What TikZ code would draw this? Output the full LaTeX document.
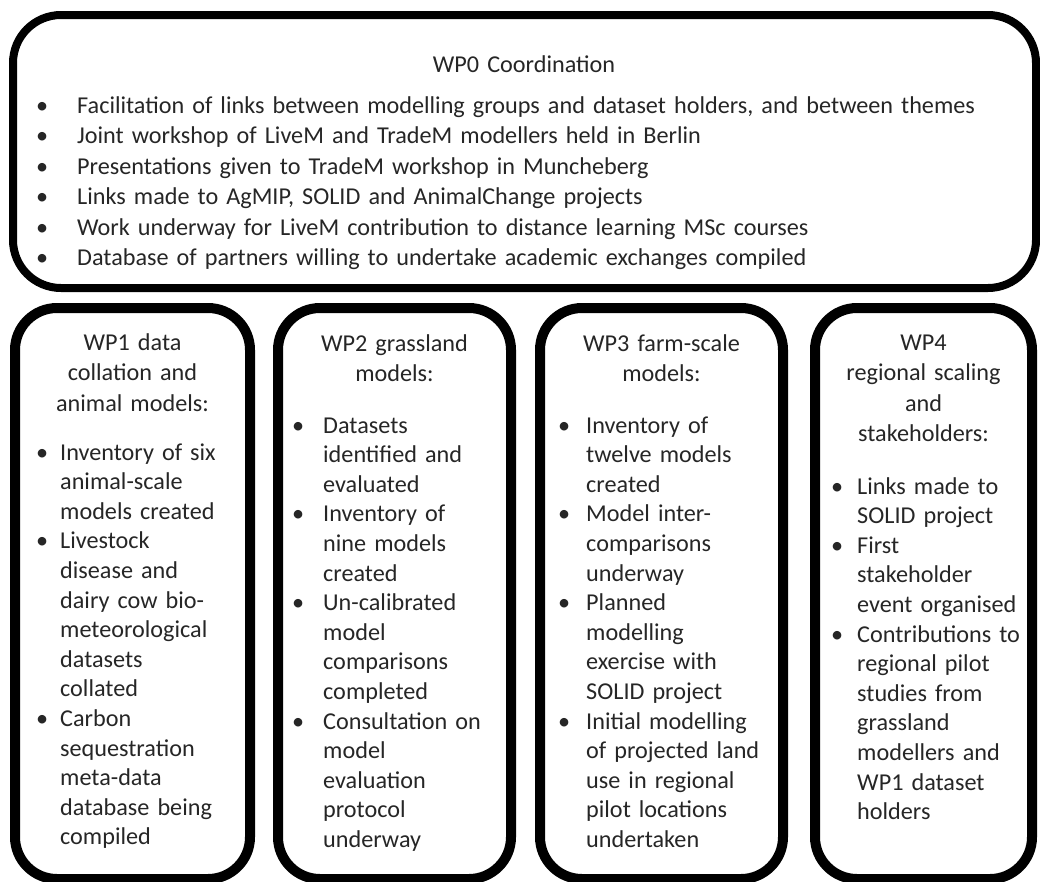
\documentclass[tikz,border=0pt]{standalone}
\usepackage{fontspec}
\setmainfont{Carlito}
\definecolor{txt}{RGB}{38,38,38}
\newcommand{\fitm}[1]{\llap{\makebox[#1][c]{•}}}
\newcommand{\bitm}[1]{\par\noindent\llap{\makebox[#1][c]{•}}}
\tikzset{
  topbox/.style={draw=black, line width=8pt, rounded corners=48pt, inner sep=0pt},
  wpbox/.style={draw=black, line width=10pt, rounded corners=42pt, inner sep=0pt},
  wptitle/.style={anchor=base, text width=230pt, align=center, inner sep=0pt,
    font=\fontsize{24.2}{30.5}\selectfont},
  blist/.style={anchor=base west, text width=250pt, align=left, inner sep=0pt,
    font=\fontsize{24.2}{29.6}\selectfont},
  toplist/.style={anchor=base west, text width=960pt, align=left, inner sep=0pt,
    font=\fontsize{24.2}{30.5}\selectfont},
}
\begin{document}
\begin{tikzpicture}[x=1pt,y=-1pt]
\useasboundingbox (0,0) rectangle (1040,881);
\fill[white] (0,0) rectangle (1040,881);
% boxes
\node[topbox, minimum width=1023pt, minimum height=273pt] (wp0) at (524.5,151.5) {};
\node[wpbox, minimum width=235pt, minimum height=571pt] (wp1) at (132.5,593.5) {};
\node[wpbox, minimum width=233pt, minimum height=571pt] (wp2) at (394.5,593.5) {};
\node[wpbox, minimum width=243pt, minimum height=571pt] (wp3) at (661.5,593.5) {};
\node[wpbox, minimum width=217pt, minimum height=571pt] (wp4) at (923.5,593.5) {};
\begin{scope}[color=txt]
% top box
\node[wptitle, text width=600pt] (t0) at (524,72) {WP0 Coordination};
\node[toplist] (l0) at (77,113) {%
\fitm{70pt}Facilitation of links between modelling groups and dataset holders, and between themes
\bitm{70pt}Joint workshop of LiveM and TradeM modellers held in Berlin
\bitm{70pt}Presentations given to TradeM workshop in Muncheberg
\bitm{70pt}Links made to AgMIP, SOLID and AnimalChange projects
\bitm{70pt}Work underway for LiveM contribution to distance learning MSc courses
\bitm{70pt}Database of partners willing to undertake academic exchanges compiled};
% WP1
\node[wptitle] (t1) at (132.5,350) {WP1 data\\collation and\\animal models:};
\node[blist] (l1) at (60,460) {%
\fitm{36pt}Inventory of six\\animal-scale\\models created
\bitm{36pt}Livestock\\disease and\\dairy cow bio-\\meteorological\\datasets\\collated
\bitm{36pt}Carbon\\sequestration\\meta-data\\database being\\compiled};
% WP2
\node[wptitle] (t2) at (394.5,351) {WP2 grassland\\models:};
\node[blist] (l2) at (323,433) {%
\fitm{50pt}Datasets\\identified and\\evaluated
\bitm{50pt}Inventory of\\nine models\\created
\bitm{50pt}Un-calibrated\\model\\comparisons\\completed
\bitm{50pt}Consultation on\\model\\evaluation\\protocol\\underway};
% WP3
\node[wptitle] (t3) at (661.5,351) {WP3 farm-scale\\models:};
\node[blist] (l3) at (586,433) {%
\fitm{44pt}Inventory of\\twelve models\\created
\bitm{44pt}Model inter-\\comparisons\\underway
\bitm{44pt}Planned\\modelling\\exercise with\\SOLID project
\bitm{44pt}Initial modelling\\of projected land\\use in regional\\pilot locations\\undertaken};
% WP4
\node[wptitle] (t4) at (923.5,350) {WP4\\regional scaling\\and\\stakeholders:};
\node[blist] (l4) at (857,494) {%
\fitm{40pt}Links made to\\SOLID project
\bitm{40pt}First\\stakeholder\\event organised
\bitm{40pt}Contributions to\\regional pilot\\studies from\\grassland\\modellers and\\WP1 dataset\\holders};
\end{scope}
\end{tikzpicture}
\end{document}
